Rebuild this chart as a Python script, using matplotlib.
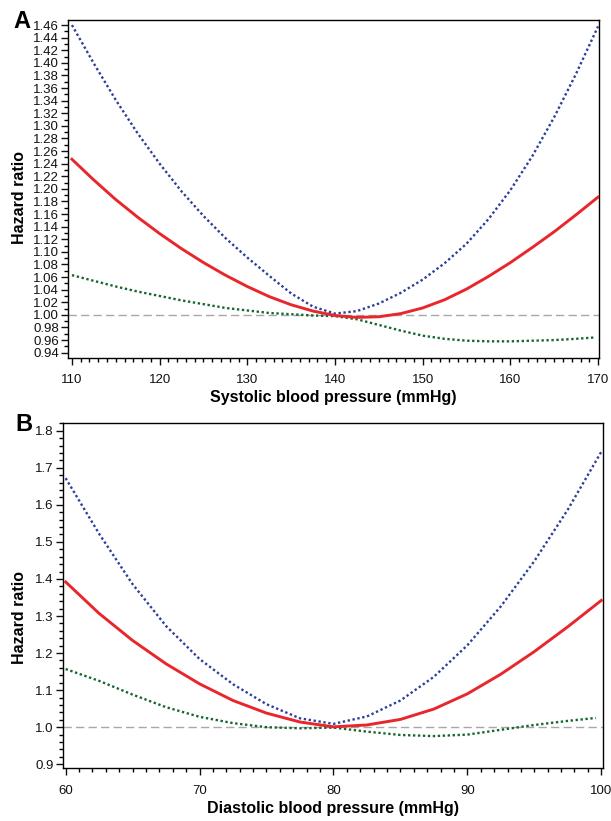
import matplotlib.pyplot as plt
from matplotlib.ticker import MultipleLocator

plt.rcParams['font.family'] = ['Liberation Sans', 'DejaVu Sans']

# Panel A: systolic blood pressure
sbp = [110, 112.5, 115, 117.5, 120, 122.5, 125, 127.5, 130, 132.5, 135, 137.5,
       140, 142.5, 145, 147.5, 150, 152.5, 155, 157.5, 160, 162.5, 165, 167.5, 170]
sbp_hr = [1.247, 1.214, 1.183, 1.155, 1.129, 1.105, 1.083, 1.063, 1.045, 1.029, 1.016, 1.006,
          0.999, 0.996, 0.997, 1.002, 1.011, 1.024, 1.041, 1.061, 1.083, 1.107, 1.132, 1.159, 1.187]
sbp_upper = [1.460, 1.399, 1.341, 1.288, 1.240, 1.196, 1.157, 1.122, 1.091, 1.062, 1.034, 1.013,
             1.002, 1.006, 1.018, 1.035, 1.056, 1.082, 1.113, 1.152, 1.198, 1.252, 1.314, 1.383, 1.458]
sbp_low_x = [110, 112.5, 115, 117.5, 120, 122.5, 125, 127.5, 130, 132.5, 135, 137.5,
             140, 142.5, 145, 147.5, 150, 152.5, 155, 157.5, 160, 162.5, 165, 167.5, 169.5]
sbp_lower = [1.063, 1.054, 1.045, 1.037, 1.030, 1.023, 1.017, 1.011, 1.007, 1.003, 1.001, 0.999,
             0.998, 0.993, 0.984, 0.975, 0.967, 0.962, 0.959, 0.958, 0.958, 0.959, 0.960, 0.962, 0.964]
sbp_yticks = [0.94 + 0.02 * i for i in range(27)]

# Panel B: diastolic blood pressure
dbp = [60, 62.5, 65, 67.5, 70, 72.5, 75, 77.5, 80, 82.5, 85, 87.5, 90, 92.5, 95, 97.5, 100]
dbp_hr = [1.392, 1.307, 1.234, 1.171, 1.117, 1.072, 1.038, 1.014, 1.001, 1.006, 1.021, 1.049,
          1.090, 1.143, 1.204, 1.271, 1.342]
dbp_upper = [1.672, 1.522, 1.386, 1.273, 1.184, 1.116, 1.062, 1.024, 1.009, 1.029, 1.072, 1.136,
             1.221, 1.326, 1.448, 1.587, 1.743]
dbp_low_x = [60, 62.5, 65, 67.5, 70, 72.5, 75, 77.5, 80, 82.5, 85, 87.5, 90, 92.5, 95, 97.5, 99.6]
dbp_lower = [1.157, 1.125, 1.088, 1.054, 1.028, 1.011, 1.000, 0.997, 0.999, 0.988, 0.979, 0.976,
             0.980, 0.993, 1.006, 1.017, 1.025]
dbp_yticks = [0.9, 1.0, 1.1, 1.2, 1.3, 1.4, 1.5, 1.6, 1.7, 1.8]

RED = "#e8262b"
BLUE = "#2d3f9a"
GREEN = "#16672e"

fig = plt.figure(figsize=(6.11, 8.21), dpi=100)
axA = fig.add_axes([0.1113, 0.5643, 0.8690, 0.4113])
axB = fig.add_axes([0.1026, 0.0646, 0.8843, 0.4198])


def draw(ax, x, hr, up, lx, lo, xlim, ylim):
    ax.axhline(1.0, color="#a8a8a8", lw=1.0, ls=(0, (6, 3)), zorder=1)
    ax.plot(x, up, color=BLUE, lw=1.7, ls=(0, (1, 1.1)), zorder=3)
    ax.plot(lx, lo, color=GREEN, lw=1.7, ls=(0, (1, 1.1)), zorder=3)
    ax.plot(x, hr, color=RED, lw=2.1, zorder=4)
    ax.set_xlim(*xlim)
    ax.set_ylim(*ylim)
    ax.xaxis.set_major_locator(MultipleLocator(10))
    ax.xaxis.set_minor_locator(MultipleLocator(1))
    ax.tick_params(which="major", direction="out", length=5, width=1, labelsize=9.5, colors="#111111")
    ax.tick_params(which="minor", direction="out", length=3, width=1)
    ax.tick_params(axis="x", pad=7)
    ax.tick_params(axis="y", pad=1.5)
    for s in ax.spines.values():
        s.set_linewidth(1.0)


draw(axA, sbp, sbp_hr, sbp_upper, sbp_low_x, sbp_lower, (109.55, 170.1), (0.932, 1.468))
axA.set_yticks(sbp_yticks)
axA.set_yticklabels([f"{v:.2f}" for v in sbp_yticks])
axA.yaxis.set_minor_locator(MultipleLocator(0.01))

draw(axB, dbp, dbp_hr, dbp_upper, dbp_low_x, dbp_lower, (59.78, 100.13), (0.89, 1.82))
axB.set_yticks(dbp_yticks)
axB.set_yticklabels([f"{v:.1f}" for v in dbp_yticks])
axB.yaxis.set_minor_locator(MultipleLocator(0.02))

fig.text(333 / 611, 1 - 397 / 821, "Systolic blood pressure (mmHg)", ha="center", va="center",
         fontsize=11.5, fontweight="bold")
fig.text(333 / 611, 1 - 808 / 821, "Diastolic blood pressure (mmHg)", ha="center", va="center",
         fontsize=11.5, fontweight="bold")
fig.text(20 / 611, 1 - 197 / 821, "Hazard ratio", ha="center", va="center", rotation=90,
         fontsize=11.5, fontweight="bold")
fig.text(20 / 611, 1 - 617 / 821, "Hazard ratio", ha="center", va="center", rotation=90,
         fontsize=11.5, fontweight="bold")
fig.text(22 / 611, 1 - 22 / 821, "A", ha="center", va="center", fontsize=17, fontweight="bold")
fig.text(24 / 611, 1 - 424 / 821, "B", ha="center", va="center", fontsize=17, fontweight="bold")

fig.savefig("out.png", dpi=100)
